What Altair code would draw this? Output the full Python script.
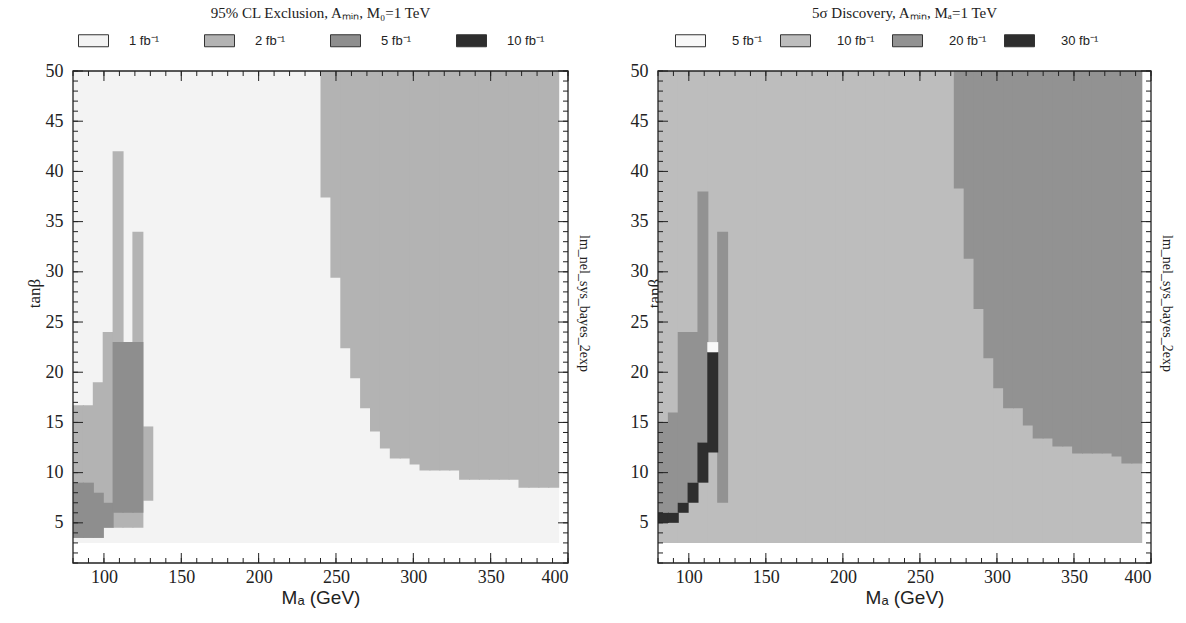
import altair as alt
import pandas as pd

# ---------------- grid definition ----------------
BIN_W = 6.4          # GeV per M_A bin, grid starts at 80 GeV
M_START = 80.0
SEAM = 0.7           # overlap (>1 px) so neighbouring cells do not show hairline seams

# ---------------- left panel: 95% CL exclusion ----------------
LEFT_LEVELS = ["1 fb⁻¹", "2 fb⁻¹", "5 fb⁻¹", "10 fb⁻¹"]
LEFT_COLORS = ["#f3f3f3", "#b3b3b3", "#8e8e8e", "#2e2e2e"]

L1_BIN = list(range(0, 49))
L1_LO = [3.0] * 49
L1_HI = [50.0] * 49

L2_BIN = [0, 1, 2, 3, 4, 5, 6, 7,
          25, 26, 27, 28, 29, 30, 31, 32, 33, 34, 35, 36, 37, 38,
          39, 40, 41, 42, 43, 44, 45, 46, 47, 48]
L2_LO = [3.5, 3.5, 3.5, 4.5, 4.5, 4.5, 4.5, 7.2,
         37.4, 29.4, 22.4, 19.4, 16.4, 14.1, 12.4, 11.4, 11.4, 10.8, 10.2, 10.2, 10.2, 10.2,
         9.3, 9.3, 9.3, 9.3, 9.3, 9.3, 8.5, 8.5, 8.5, 8.5]
L2_HI = [16.7, 16.7, 19.0, 24.0, 42.0, 23.0, 34.0, 14.6,
         50, 50, 50, 50, 50, 50, 50, 50, 50, 50, 50, 50, 50, 50,
         50, 50, 50, 50, 50, 50, 50, 50, 50, 50]

L3_BIN = [0, 1, 2, 3, 4, 5, 6]
L3_LO = [3.5, 3.5, 3.5, 4.5, 6.0, 6.0, 6.0]
L3_HI = [9.0, 9.0, 8.0, 7.0, 23.0, 23.0, 23.0]

L4_BIN = []
L4_LO = []
L4_HI = []

# ---------------- right panel: 5 sigma discovery ----------------
RIGHT_LEVELS = ["5 fb⁻¹", "10 fb⁻¹", "20 fb⁻¹", "30 fb⁻¹"]
RIGHT_COLORS = ["#f8f8f8", "#bdbdbd", "#929292", "#2e2e2e"]

R2_BIN = list(range(0, 49))
R2_LO = [3.0] * 49
R2_HI = [50.0] * 49

R3_BIN = [0, 1, 2, 3, 4, 6,
          30, 31, 32, 33, 34, 35, 36, 37, 38, 39, 40, 41, 42, 43, 44, 45, 46, 47, 48]
R3_LO = [6.0, 6.0, 7.0, 9.0, 13.0, 7.0,
         38.3, 31.3, 26.3, 21.4, 18.4, 16.4, 16.4, 14.7, 13.4, 13.4, 12.6, 12.6,
         11.9, 11.9, 11.9, 11.9, 11.6, 10.9, 10.9]
R3_HI = [15.0, 16.0, 24.0, 24.0, 38.0, 34.0,
         50, 50, 50, 50, 50, 50, 50, 50, 50, 50, 50, 50, 50, 50, 50, 50, 50, 50, 50]

R4_BIN = [0, 1, 2, 3, 4, 5]
R4_LO = [5.0, 5.0, 6.0, 7.0, 9.0, 12.0]
R4_HI = [6.0, 6.0, 7.0, 9.0, 13.0, 22.0]

R1_BIN = [5]
R1_LO = [22.0]
R1_HI = [23.0]

# ---------------- axis ticks ----------------
X_LABELS = [100, 150, 200, 250, 300, 350, 400]
X_MINOR = list(range(80, 401, 10))
Y_LABELS = [5, 10, 15, 20, 25, 30, 35, 40, 45, 50]
Y_MINOR = list(range(1, 51))

LEFT_TITLE = "95% CL Exclusion, Aₘᵢₙ, M₀=1 TeV"
RIGHT_TITLE = "5σ Discovery, Aₘᵢₙ, Mₐ=1 TeV"
SIDE_LABEL = "lm_nel_sys_bayes_2exp"

H = 492
SERIF = "Liberation Serif"
SANS = "Liberation Sans"
INK = "#222222"


def build_cells(groups, levels):
    rows = []
    for lvl, (bins, lo, hi) in zip(levels, groups):
        for b, a, c in zip(bins, lo, hi):
            end = M_START + (b + 1) * BIN_W
            rows.append({"m0": M_START + b * BIN_W, "m1": min(end + SEAM, 400.0),
                         "lo": a, "hi": c, "level": lvl})
    return pd.DataFrame(rows)


def tick_layers(xs, ys, width):
    layers = []
    xmaj = pd.DataFrame({"v": X_LABELS})
    xmin = pd.DataFrame({"v": X_MINOR})
    ymaj = pd.DataFrame({"v": Y_LABELS})
    ymin = pd.DataFrame({"v": Y_MINOR})
    for df, ln in ((xmaj, 10), (xmin, 5)):
        for y0, y1 in ((H, H - ln), (0, ln)):
            layers.append(alt.Chart(df).mark_rule(color=INK, strokeWidth=1).encode(
                x=alt.X("v:Q", scale=xs, axis=None), y=alt.value(y0), y2=alt.value(y1)))
    for df, ln in ((ymaj, 10), (ymin, 5)):
        for x0, x1 in ((0, ln), (width, width - ln)):
            layers.append(alt.Chart(df).mark_rule(color=INK, strokeWidth=1).encode(
                y=alt.Y("v:Q", scale=ys, axis=None), x=alt.value(x0), x2=alt.value(x1)))
    return layers


def panel(cells, levels, colors, title, width, ytitle_x, leg_offset, leg_pad, sym_off):
    xs = alt.Scale(domain=[80, 400], nice=False, zero=False)
    ys = alt.Scale(domain=[1, 50], nice=False, zero=False)
    cscale = alt.Scale(domain=levels, range=colors)
    yaxis = dict(values=Y_LABELS, ticks=False, domain=False, grid=False,
                 labelFont=SERIF, labelFontSize=18, labelColor=INK, labelPadding=10,
                 title="tanβ", titleFont=SERIF, titleFontSize=17, titleFontWeight="normal",
                 titleColor=INK, titleY=222, titlePadding=2)
    if ytitle_x is not None:
        yaxis["titleX"] = ytitle_x
    rect = alt.Chart(cells).mark_rect(strokeWidth=0, opacity=1, fillOpacity=1).encode(
        x=alt.X("m0:Q", scale=xs, axis=alt.Axis(
            values=X_LABELS, ticks=False, domain=False, grid=False,
            labelFont=SERIF, labelFontSize=18, labelColor=INK, labelPadding=5,
            title="Mₐ (GeV)", titleFont=SANS, titleFontSize=19, titleFontWeight="normal",
            titleColor=INK, titlePadding=2)),
        x2="m1:Q",
        y=alt.Y("lo:Q", scale=ys, axis=alt.Axis(**yaxis)),
        y2="hi:Q",
        color=alt.Color("level:N", scale=cscale, legend=alt.Legend(
            title=None, orient="top", direction="horizontal", columns=4,
            symbolType="M-1,-0.4H1V0.4H-1Z", symbolSize=900, symbolOffset=sym_off,
            symbolStrokeColor="#333333", symbolStrokeWidth=1, symbolOpacity=1,
            labelFont=SANS, labelFontSize=13, labelColor=INK,
            labelOffset=leg_offset, columnPadding=leg_pad, offset=22, padding=0)),
    )
    side = alt.Chart(pd.DataFrame({"v": [25]})).mark_point(opacity=0).encode(
        y=alt.Y("v:Q", scale=ys, axis=alt.Axis(
            orient="right", labels=False, ticks=False, domain=False, grid=False,
            title=SIDE_LABEL, titleFont=SERIF, titleFontSize=14, titleFontWeight="normal",
            titleColor=INK, titlePadding=8, titleY=232)),
        x=alt.value(0),
    )
    frame = alt.Chart(pd.DataFrame({"v": [0]})).mark_rect(
        fill=None, stroke=INK, strokeWidth=1.3).encode(
        x=alt.value(0), x2=alt.value(width), y=alt.value(0), y2=alt.value(H))
    layers = [rect] + tick_layers(xs, ys, width) + [side, frame]
    return alt.layer(*layers).resolve_axis(x="independent", y="independent").properties(
        width=width, height=H,
        title=alt.TitleParams(title, font=SERIF, fontSize=15, fontWeight="normal",
                              color=INK, anchor="middle", offset=4),
    )


left_cells = build_cells([(L1_BIN, L1_LO, L1_HI), (L2_BIN, L2_LO, L2_HI),
                          (L3_BIN, L3_LO, L3_HI), (L4_BIN, L4_LO, L4_HI)], LEFT_LEVELS)
right_cells = build_cells([(R2_BIN, R2_LO, R2_HI), (R3_BIN, R3_LO, R3_HI),
                           (R4_BIN, R4_LO, R4_HI), (R1_BIN, R1_LO, R1_HI)],
                          [RIGHT_LEVELS[1], RIGHT_LEVELS[2], RIGHT_LEVELS[3], RIGHT_LEVELS[0]])

left = panel(left_cells, LEFT_LEVELS, LEFT_COLORS, LEFT_TITLE, 495, None, 20, 39, 5)
right = panel(right_cells, RIGHT_LEVELS, RIGHT_COLORS, RIGHT_TITLE, 493, 5, 26, 0, 17)

chart = alt.hconcat(left, right, spacing=40).resolve_scale(
    color="independent").resolve_legend(color="independent").configure(
    padding={"left": 25, "top": 6, "right": 2, "bottom": 2}, background="white"
).configure_view(strokeWidth=0)

chart.save("out.html", embed_options={"renderer": "svg", "actions": False})
